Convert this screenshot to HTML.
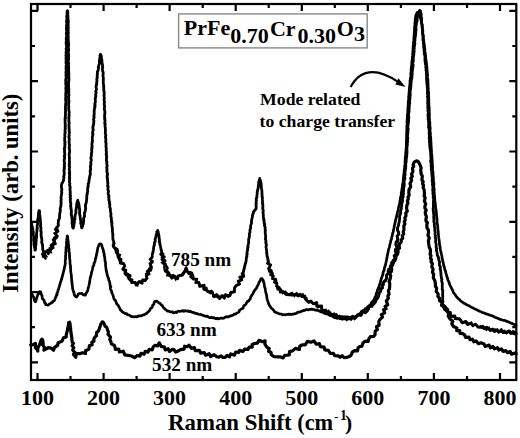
<!DOCTYPE html>
<html><head><meta charset="utf-8"><style>
html,body{margin:0;padding:0;background:#fff;}
svg{display:block;}
text{font-family:"Liberation Serif",serif;font-weight:bold;fill:#000;}
</style></head><body>
<svg width="520" height="438" viewBox="0 0 520 438">
<rect width="520" height="438" fill="#fff"/>
<g fill="none" stroke="#000" stroke-linejoin="round" stroke-linecap="round">
<path d="M30.7,344.8 L33.3,344.6 L35.4,343.4 L35.4,347.7 L37.3,349.8 L37.8,351.1 L37.7,348.2 L38.8,346.0 L40.0,343.8 L40.3,342.4 L40.7,341.2 L41.1,340.1 L41.6,339.4 L41.8,339.1 L42.0,339.3 L42.6,339.9 L42.9,341.0 L42.9,342.4 L43.2,343.7 L42.7,345.0 L44.5,347.5 L43.9,350.1 L46.3,348.9 L48.2,347.6 L51.1,348.1 L53.6,350.2 L54.6,347.3 L57.6,345.4 L58.1,342.7 L62.0,341.2 L63.5,337.8 L66.2,337.0 L66.2,334.9 L66.6,333.9 L66.7,332.7 L67.2,331.5 L67.3,330.5 L67.6,329.5 L67.7,328.2 L68.1,327.0 L68.2,325.8 L68.6,324.7 L68.6,323.6 L68.5,322.8 L69.0,322.4 L69.6,322.2 L70.2,324.6 L70.1,325.3 L70.3,326.1 L70.2,327.1 L70.7,328.1 L70.6,329.2 L70.6,330.4 L70.9,331.5 L71.1,332.7 L71.1,333.9 L71.5,335.0 L71.4,336.0 L71.6,337.0 L71.9,338.1 L71.7,339.2 L72.0,340.3 L72.2,341.4 L72.2,342.5 L73.5,343.3 L72.1,345.7 L73.8,347.6 L72.7,350.2 L74.8,352.2 L73.4,354.5 L75.8,357.2 L75.8,356.5 L76.4,353.6 L79.8,353.7 L82.5,352.7 L85.5,353.5 L85.5,350.8 L88.9,349.1 L89.4,345.5 L92.1,345.0 L91.8,342.2 L94.0,341.3 L93.8,339.0 L94.8,337.2 L96.5,335.7 L96.6,332.4 L98.5,330.9 L99.2,329.0 L100.5,325.2 L100.9,323.9 L101.6,323.0 L102.0,322.1 L102.6,321.8 L103.1,322.1 L103.6,322.9 L104.2,323.9 L104.7,325.1 L105.2,326.4 L106.7,327.2 L107.6,330.1 L108.4,332.1 L108.1,334.4 L110.5,337.0 L109.8,339.6 L110.9,341.6 L111.4,343.8 L114.6,345.7 L115.4,349.5 L118.7,349.0 L119.5,352.0 L123.3,351.2 L124.8,354.8 L128.8,355.5 L131.4,356.0 L134.6,357.7 L137.3,355.5 L139.9,356.1 L141.0,353.3 L144.1,354.3 L145.2,351.3 L148.0,352.1 L149.1,349.4 L152.3,349.8 L153.2,346.9 L154.9,345.3 L157.8,345.8 L159.2,342.8 L161.4,346.6 L164.2,346.8 L165.2,349.9 L168.1,348.7 L169.5,351.4 L172.0,349.4 L174.0,349.6 L175.7,352.0 L178.8,350.8 L180.3,349.7 L184.0,349.1 L184.6,346.2 L187.1,346.7 L189.0,345.1 L191.3,348.4 L194.4,347.6 L195.3,350.7 L199.4,350.4 L200.6,353.1 L204.2,352.6 L205.6,355.2 L209.2,353.7 L210.6,356.5 L214.1,354.7 L216.8,356.8 L218.9,357.2 L221.1,355.9 L223.1,357.5 L225.1,357.4 L227.0,355.5 L229.5,356.9 L230.7,354.0 L234.5,355.1 L235.7,352.0 L238.5,352.5 L239.6,350.3 L242.8,351.4 L244.5,349.2 L248.1,349.3 L249.3,347.0 L252.2,347.2 L252.2,344.5 L254.4,343.5 L257.5,343.1 L259.0,340.3 L262.3,341.7 L265.1,340.9 L264.9,344.0 L266.5,346.8 L269.2,348.6 L268.5,351.4 L271.0,352.2 L271.3,354.8 L274.1,356.7 L278.2,356.8 L280.2,356.8 L283.0,357.9 L284.8,355.3 L289.2,355.0 L289.5,351.6 L292.3,351.0 L295.3,348.4 L299.4,349.4 L299.8,346.2 L302.1,344.8 L305.2,344.8 L307.4,341.4 L310.9,342.2 L314.0,341.0 L316.3,344.2 L319.4,343.6 L320.3,346.6 L324.1,347.2 L324.8,349.8 L328.3,350.4 L330.3,353.5 L333.4,353.3 L334.7,355.7 L338.3,355.8 L340.1,357.4 L342.1,355.7 L344.1,357.7 L346.4,357.5 L348.6,356.7 L350.8,355.6 L352.6,351.8 L354.5,350.6 L357.5,350.9 L358.0,348.0 L359.4,346.7 L361.9,346.1 L363.1,342.8 L365.5,341.1 L368.2,341.5 L368.7,339.0 L370.4,336.6 L373.6,336.5 L375.0,334.8 L375.2,331.0 L377.4,329.6 L376.5,326.6 L379.1,325.3 L378.8,321.5 L379.8,319.7 L382.5,317.2 L381.4,314.6 L384.6,312.8 L383.6,309.7 L386.1,308.8 L385.1,306.3 L387.7,304.9 L386.3,300.9 L388.4,298.2 L387.8,296.1 L389.1,294.1 L388.4,290.8 L389.5,288.7 L389.7,285.8 L389.8,283.6 L389.1,281.5 L390.2,278.6 L390.7,275.8 L389.8,273.6 L391.3,271.6 L391.7,269.5 L391.3,266.4 L392.7,264.7 L393.4,261.8 L395.0,260.3 L395.8,258.4 L395.9,256.1 L397.5,254.2 L398.1,252.1 L397.9,249.8 L399.5,248.1 L399.1,245.7 L399.6,243.6 L401.2,242.0 L401.2,239.9 L402.7,238.2 L402.3,235.8 L403.7,233.8 L403.2,231.7 L404.0,229.5 L403.8,226.0 L404.9,223.9 L404.3,221.8 L405.2,220.1 L404.9,217.5 L406.0,215.8 L405.8,213.0 L407.3,211.2 L406.5,208.2 L406.9,205.2 L407.9,203.1 L407.4,200.9 L408.3,199.1 L408.0,197.0 L409.2,195.1 L408.8,192.9 L409.0,189.6 L410.7,186.7 L410.0,183.4 L411.6,180.4 L410.8,178.2 L412.3,176.4 L411.5,174.4 L412.9,171.3 L412.5,168.1 L413.7,166.5 L413.1,164.7 L414.2,162.1 L416.5,160.8 L418.2,161.4 L419.9,164.6 L421.1,167.7 L420.7,170.2 L421.0,171.9 L421.1,173.9 L422.3,176.0 L421.9,180.1 L423.2,181.6 L422.5,183.6 L423.6,185.4 L423.1,187.6 L424.1,189.6 L424.3,191.8 L424.5,193.9 L424.2,196.0 L425.1,198.0 L424.4,201.1 L425.8,204.1 L424.9,206.2 L424.9,208.2 L426.2,210.1 L425.3,212.2 L425.4,214.1 L426.6,217.0 L425.9,219.1 L426.0,221.0 L427.4,222.7 L426.8,224.7 L427.0,227.8 L428.3,229.9 L428.6,232.8 L427.9,235.0 L429.3,238.1 L428.4,240.5 L428.7,243.7 L429.0,245.8 L429.4,247.6 L430.3,249.2 L430.5,251.5 L430.1,254.3 L431.0,255.7 L430.4,258.3 L431.5,259.8 L431.0,261.7 L432.4,263.5 L431.8,266.9 L433.1,269.0 L432.5,272.4 L433.7,274.4 L433.3,277.7 L434.9,280.8 L435.5,284.1 L435.4,286.4 L436.7,288.2 L436.2,291.4 L438.2,294.1 L437.9,296.7 L439.5,298.2 L439.4,300.4 L442.1,302.5 L441.5,305.3 L444.3,305.8 L444.9,309.4 L447.9,311.6 L448.8,313.3 L448.2,316.1 L450.0,318.9 L452.8,321.2 L451.8,323.9 L453.5,326.6 L456.9,328.0 L456.7,330.6 L459.7,330.5 L460.0,333.3 L462.7,333.6 L464.6,334.8 L465.6,337.3 L469.0,337.1 L470.0,339.7 L472.5,339.2 L473.8,341.8 L476.2,340.9 L478.5,343.7 L481.1,342.8 L484.0,344.0 L485.3,346.4 L489.1,345.1 L490.4,347.8 L492.9,346.5 L494.5,348.9 L497.4,347.6 L498.8,350.0 L501.4,348.9 L503.1,351.4 L505.8,350.6 L507.6,352.7 L510.2,351.4 L511.4,354.1 L515.8,352.9 L516.0,354.0" stroke-width="3.2"/>
<path d="M31.3,292.9 L31.5,293.8 L32.3,294.7 L32.9,295.9 L33.6,296.9 L33.9,298.1 L34.3,299.4 L34.6,300.7 L35.1,301.5 L35.3,301.8 L35.8,301.6 L35.9,300.7 L36.3,299.5 L36.6,298.2 L37.0,297.0 L37.4,296.0 L37.8,294.8 L38.5,293.6 L38.9,292.4 L39.4,291.6 L40.0,291.7 L40.7,291.8 L41.0,292.8 L40.9,294.1 L42.0,295.2 L42.1,296.6 L42.2,298.0 L42.7,299.1 L43.9,300.0 L44.3,301.3 L44.6,302.6 L45.6,303.5 L45.6,304.6 L46.5,304.7 L48.2,305.1 L48.9,304.4 L49.7,303.8 L50.7,303.5 L51.5,302.5 L52.6,302.3 L53.0,301.2 L54.3,300.7 L54.8,299.5 L55.3,298.2 L55.6,297.4 L56.2,296.6 L56.2,295.5 L57.2,294.7 L56.8,293.4 L57.5,292.4 L57.9,291.3 L58.0,289.9 L58.7,289.2 L58.7,288.1 L59.2,287.2 L59.5,286.1 L59.6,285.0 L60.1,284.0 L60.3,282.9 L60.6,281.8 L61.2,280.8 L61.3,279.8 L61.7,278.9 L61.7,278.0 L62.3,276.8 L62.5,275.7 L62.8,274.7 L63.0,273.7 L63.2,272.8 L63.5,271.9 L63.7,270.9 L63.9,270.0 L64.3,269.0 L64.3,268.0 L64.5,267.1 L64.9,266.1 L65.0,265.1 L65.2,264.1 L65.3,263.1 L65.2,262.0 L65.3,261.0 L65.3,260.0 L65.6,258.9 L65.6,257.8 L65.5,256.7 L65.6,255.6 L65.7,254.6 L65.8,253.5 L65.7,252.4 L66.0,251.3 L65.9,250.2 L66.1,249.2 L66.0,248.1 L66.1,247.0 L66.5,246.0 L66.5,244.9 L66.6,243.9 L66.4,243.0 L66.5,241.7 L66.7,240.4 L66.8,239.1 L67.0,237.9 L67.1,236.9 L67.1,236.2 L67.4,235.9 L67.5,236.3 L67.8,236.9 L67.6,237.9 L67.9,239.1 L68.0,240.4 L68.3,241.7 L68.3,243.0 L68.3,243.9 L68.5,244.7 L68.8,245.5 L68.5,246.4 L68.6,247.4 L68.9,248.4 L69.1,249.5 L68.9,250.9 L69.2,252.4 L69.5,253.2 L69.4,254.0 L69.6,254.9 L69.4,255.8 L69.7,256.7 L69.5,257.8 L69.7,258.8 L70.0,259.8 L69.9,260.9 L70.1,262.0 L70.0,263.1 L70.1,264.2 L70.4,265.3 L70.6,266.4 L70.4,267.5 L70.7,268.5 L70.6,269.6 L70.7,270.6 L70.8,271.6 L70.9,272.5 L71.1,273.6 L71.2,274.8 L71.5,275.9 L71.3,277.1 L71.6,278.2 L71.6,279.3 L71.6,280.4 L72.0,281.4 L71.8,282.5 L72.2,283.5 L72.1,284.5 L72.2,285.5 L72.5,286.4 L72.5,287.3 L72.5,288.1 L72.7,288.9 L73.1,290.4 L73.5,291.8 L74.0,293.0 L74.2,294.2 L74.5,295.2 L75.0,296.0 L75.4,296.5 L75.7,296.7 L76.6,297.1 L77.5,295.7 L78.1,294.2 L79.4,293.6 L80.8,293.5 L82.0,293.4 L82.7,294.5 L83.9,294.9 L84.7,295.1 L85.5,295.1 L85.5,293.9 L86.4,293.1 L86.8,291.9 L87.7,290.9 L87.8,289.9 L88.1,288.9 L88.2,287.7 L88.6,286.6 L88.9,285.5 L89.1,284.4 L89.4,283.4 L89.7,282.4 L89.5,281.5 L89.8,280.7 L90.0,279.8 L90.1,278.7 L90.3,277.5 L90.6,276.7 L90.8,275.8 L91.2,274.8 L91.3,273.8 L91.5,272.7 L91.8,271.6 L92.1,270.6 L92.4,269.5 L92.6,268.4 L92.8,267.4 L93.0,266.4 L93.7,265.5 L93.9,264.4 L94.0,263.3 L94.6,262.4 L95.0,261.4 L95.2,260.4 L95.3,259.3 L95.7,258.4 L96.0,257.4 L96.1,256.3 L96.5,255.3 L96.4,254.2 L97.0,253.1 L97.1,252.0 L97.2,251.0 L97.5,250.1 L97.6,249.1 L97.7,248.3 L98.2,246.9 L98.7,245.5 L99.2,244.4 L100.0,243.9 L100.5,243.8 L101.0,244.0 L101.6,244.8 L101.9,246.0 L102.3,247.3 L102.7,248.7 L103.4,250.1 L103.4,250.9 L103.6,251.8 L103.8,252.7 L104.1,253.6 L104.3,254.6 L104.2,255.7 L104.6,256.7 L104.7,257.8 L104.8,258.8 L105.0,259.9 L105.0,261.0 L105.4,262.0 L105.6,263.1 L105.5,264.2 L105.6,265.4 L105.7,266.5 L105.9,267.7 L106.0,268.9 L106.1,270.0 L106.4,271.0 L106.6,272.0 L106.9,272.9 L107.0,273.8 L107.2,275.2 L107.8,276.3 L107.9,277.4 L108.5,278.2 L108.7,279.1 L108.8,280.1 L109.4,281.1 L109.7,282.3 L109.8,283.4 L110.1,284.6 L110.0,285.8 L110.9,286.6 L110.3,287.8 L110.5,288.8 L110.8,289.8 L111.4,290.8 L111.8,291.7 L111.7,292.7 L112.2,293.7 L112.7,294.6 L113.1,295.5 L113.4,296.5 L113.6,297.5 L113.9,298.6 L114.3,299.6 L115.4,300.3 L115.8,301.4 L116.2,302.5 L116.6,303.6 L117.3,304.5 L118.0,305.2 L118.7,306.3 L119.2,307.4 L119.8,308.4 L120.1,309.5 L120.8,310.3 L121.7,311.1 L122.5,312.0 L123.4,312.6 L124.5,313.0 L125.3,313.7 L126.6,313.5 L127.2,314.5 L128.2,314.9 L129.3,315.0 L130.3,315.8 L131.3,316.7 L132.7,316.6 L133.8,317.0 L134.9,316.7 L136.1,316.6 L137.3,316.9 L138.3,315.8 L139.5,315.8 L140.9,316.0 L142.0,315.5 L143.0,314.8 L144.4,314.9 L145.3,314.0 L146.5,313.5 L147.3,312.6 L148.3,311.9 L149.2,311.0 L149.9,309.9 L150.3,308.9 L150.9,308.1 L152.1,307.5 L152.4,306.3 L152.6,305.2 L153.9,304.4 L154.1,302.8 L154.6,301.6 L155.7,301.3 L156.9,301.2 L158.0,302.2 L159.2,303.1 L160.3,303.6 L161.0,304.8 L162.2,305.4 L162.7,306.5 L163.4,307.6 L164.5,308.4 L165.1,309.4 L166.0,309.7 L166.8,310.4 L167.7,311.2 L169.0,311.2 L169.9,311.7 L171.0,312.0 L172.2,311.7 L173.2,312.8 L174.4,312.7 L175.4,312.1 L176.7,312.6 L177.5,311.7 L178.5,311.0 L180.1,311.5 L180.8,311.0 L181.7,311.2 L182.7,310.6 L183.8,311.3 L184.9,310.6 L186.0,310.9 L187.1,311.1 L188.2,310.9 L189.2,311.6 L190.3,311.4 L191.3,311.7 L192.2,312.3 L193.4,312.3 L194.3,313.1 L195.4,313.1 L196.3,313.7 L197.5,313.7 L198.4,314.3 L199.4,314.5 L200.6,314.2 L201.5,315.0 L202.6,315.0 L203.5,315.7 L204.6,315.9 L205.6,316.4 L206.8,316.0 L207.7,316.5 L208.7,317.1 L209.6,317.6 L210.7,317.6 L211.9,317.2 L212.8,318.0 L214.0,317.7 L214.9,318.3 L215.9,318.7 L217.0,318.1 L218.0,318.9 L219.1,318.7 L220.1,318.2 L221.1,318.0 L222.1,318.1 L223.2,318.3 L224.2,317.9 L225.1,317.2 L226.1,316.8 L227.1,316.7 L228.4,317.0 L229.3,316.1 L230.4,316.1 L231.4,315.5 L232.6,315.5 L233.5,314.8 L234.3,314.1 L235.6,314.2 L236.3,313.4 L237.3,312.9 L238.2,312.4 L239.1,311.8 L239.3,310.4 L240.2,310.0 L240.8,309.2 L241.7,308.8 L242.7,308.4 L243.4,307.4 L243.6,306.0 L244.4,305.2 L245.6,304.7 L246.1,303.8 L246.4,302.9 L247.0,302.3 L247.7,301.1 L248.8,301.1 L249.2,299.9 L250.1,299.4 L250.4,298.2 L250.7,297.0 L251.4,296.0 L251.9,294.9 L252.7,294.1 L253.2,293.0 L253.7,291.9 L254.3,290.9 L255.0,290.1 L255.6,289.1 L256.3,288.3 L256.8,287.3 L257.4,286.3 L257.7,285.3 L258.4,284.5 L258.7,283.4 L259.0,282.3 L259.6,281.5 L260.2,280.8 L260.8,278.9 L261.9,278.4 L262.3,279.0 L262.9,279.8 L263.4,281.1 L263.8,282.6 L264.1,283.3 L264.2,284.2 L264.4,285.2 L264.5,286.2 L264.7,287.3 L265.2,288.3 L265.3,289.4 L265.4,290.4 L265.6,291.4 L265.8,292.4 L266.1,293.4 L266.3,294.4 L266.6,295.4 L266.8,296.4 L266.8,297.5 L267.0,298.5 L267.2,299.4 L267.5,300.2 L268.0,301.4 L268.2,302.6 L268.6,303.7 L269.2,304.6 L269.5,305.6 L270.2,306.3 L270.8,307.6 L271.6,308.4 L272.6,309.1 L273.3,310.1 L274.1,310.8 L274.6,311.9 L275.7,312.2 L276.7,312.7 L277.7,313.1 L278.6,313.5 L279.6,313.9 L280.6,314.0 L281.6,314.1 L282.6,314.9 L283.6,314.7 L284.6,314.7 L285.7,314.8 L286.7,314.5 L287.7,314.3 L288.7,314.2 L289.7,314.3 L290.7,314.2 L291.7,314.4 L292.7,314.0 L293.8,314.1 L294.6,313.5 L295.7,313.7 L296.7,313.1 L297.6,312.4 L298.5,312.1 L299.6,312.0 L300.8,311.9 L301.6,311.0 L302.7,310.9 L303.5,310.3 L304.8,310.4 L305.8,309.5 L307.0,309.7 L308.1,309.9 L309.3,309.4 L310.5,309.3 L311.6,309.2 L312.7,309.3 L313.9,309.6 L315.0,310.1 L316.1,310.0 L317.2,310.4 L318.4,310.5 L319.6,311.2 L320.6,311.8 L321.8,312.1 L323.1,312.2 L324.1,313.1 L325.2,313.7 L326.5,313.8 L327.8,313.8 L328.7,314.8 L329.6,315.3 L330.7,315.4 L331.7,315.8 L332.6,316.3 L333.4,316.9 L334.5,317.6 L335.7,317.7 L336.9,318.2 L338.1,317.9 L339.3,318.2 L340.3,318.7 L341.5,318.8 L342.7,318.7 L343.7,319.0 L344.7,318.9 L345.7,318.7 L346.8,319.0 L348.0,318.6 L348.9,318.9 L349.9,318.5 L351.0,318.4 L352.1,318.2 L353.0,317.6 L354.1,317.4 L354.8,316.7 L356.1,316.8 L356.8,316.0 L357.8,315.6 L358.1,314.4 L359.2,314.0 L360.1,313.4 L360.8,312.5 L361.7,311.6 L362.6,310.9 L363.6,310.2 L364.8,309.8 L365.3,308.7 L366.5,308.5 L367.2,307.6 L368.0,307.0 L368.8,306.4 L369.5,305.5 L370.3,304.8 L371.0,303.9 L371.6,302.9 L372.6,302.1 L372.9,300.9 L373.8,300.1 L374.3,299.2 L374.8,298.4 L374.8,297.4 L375.5,296.6 L376.0,295.7 L376.0,294.4 L376.4,293.1 L376.8,292.3 L377.3,291.6 L377.3,290.6 L377.6,289.6 L378.1,288.8 L378.5,287.8 L378.9,286.8 L379.1,285.7 L379.7,284.8 L379.8,283.6 L380.4,282.6 L380.5,281.4 L380.8,280.2 L381.1,279.4 L381.4,278.5 L381.8,277.6 L382.1,276.6 L382.3,275.6 L382.9,274.7 L382.9,273.7 L383.1,272.6 L383.4,271.6 L383.9,270.7 L384.3,269.7 L384.2,268.6 L384.5,267.6 L385.0,266.7 L385.0,265.7 L385.6,264.9 L385.6,263.9 L385.9,262.8 L386.1,261.7 L386.5,260.6 L386.6,259.5 L386.7,258.4 L387.2,257.4 L387.1,256.3 L387.5,255.3 L387.5,254.3 L387.9,253.3 L388.0,252.4 L388.3,251.6 L388.2,250.7 L388.5,250.0 L388.8,248.6 L389.3,247.7 L389.5,246.9 L389.6,246.2 L389.7,245.2 L390.1,243.8 L390.3,243.0 L390.6,242.2 L390.7,241.3 L390.9,240.3 L391.4,239.3 L391.6,238.2 L391.7,237.1 L392.3,236.1 L392.2,234.9 L392.6,233.9 L392.7,232.8 L393.2,231.9 L393.4,230.9 L393.4,230.0 L393.8,228.9 L394.1,227.9 L394.1,226.9 L394.3,226.0 L394.5,225.1 L394.9,224.2 L394.8,223.2 L395.2,222.3 L395.4,221.2 L395.6,220.0 L395.8,219.1 L396.2,218.2 L396.2,217.2 L396.7,216.3 L396.7,215.2 L397.2,214.1 L397.5,213.1 L397.5,211.9 L398.0,210.9 L398.3,209.9 L398.3,208.8 L398.5,207.7 L398.7,206.8 L399.3,205.9 L399.1,205.0 L399.7,203.9 L399.6,202.7 L400.0,201.8 L399.9,200.9 L400.1,200.0 L400.4,199.1 L400.3,198.2 L400.6,197.2 L401.0,196.2 L401.1,195.0 L401.3,194.2 L401.5,193.4 L401.2,192.5 L401.5,191.7 L401.8,190.9 L401.9,190.1 L401.8,189.2 L402.2,188.3 L402.2,187.3 L402.5,186.3 L402.5,185.2 L402.6,184.0 L403.2,182.8 L403.1,181.4 L403.5,180.0 L403.2,179.2 L403.5,178.4 L403.4,177.6 L403.6,176.7 L403.6,175.9 L403.9,175.0 L403.8,174.0 L404.1,173.1 L404.1,172.1 L404.1,171.1 L404.3,170.1 L404.4,169.1 L404.7,168.1 L404.6,167.0 L404.6,165.9 L405.0,164.9 L405.1,163.8 L405.1,162.7 L405.0,161.6 L405.1,160.5 L405.2,159.5 L405.2,158.4 L405.3,157.3 L405.6,156.2 L405.6,155.2 L405.7,154.1 L405.7,153.1 L405.7,152.0 L406.0,151.0 L406.1,150.0 L406.1,149.0 L406.1,148.0 L406.3,147.0 L406.4,146.0 L406.4,145.0 L406.4,144.0 L406.3,143.0 L406.3,142.0 L406.4,141.0 L406.7,140.0 L406.5,139.0 L406.5,138.0 L406.5,136.9 L406.5,135.9 L406.8,134.9 L406.5,133.9 L406.7,132.9 L406.9,131.9 L406.7,130.9 L406.8,129.9 L406.8,128.9 L406.8,127.9 L406.8,126.9 L406.8,125.9 L407.1,124.9 L407.1,124.0 L407.2,123.0 L406.9,122.0 L407.2,121.0 L407.1,120.0 L407.3,119.0 L407.3,118.0 L407.3,116.9 L407.6,115.9 L407.3,114.9 L407.7,113.8 L407.8,112.8 L407.7,111.8 L407.8,110.7 L408.0,109.7 L407.8,108.7 L408.0,107.6 L408.1,106.6 L408.1,105.6 L408.3,104.6 L408.2,103.5 L408.3,102.5 L408.4,101.5 L408.5,100.5 L408.5,99.5 L408.7,98.5 L408.7,97.6 L408.6,96.6 L408.9,95.6 L408.8,94.7 L409.1,93.8 L409.0,92.8 L409.2,91.9 L409.2,91.0 L409.3,89.9 L409.3,88.8 L409.3,87.7 L409.7,86.7 L409.7,85.6 L409.8,84.6 L409.9,83.6 L410.1,82.6 L410.0,81.6 L410.0,80.6 L410.4,79.6 L410.3,78.6 L410.5,77.7 L410.7,76.7 L410.8,75.8 L410.9,74.8 L410.7,73.8 L410.9,72.9 L411.2,71.9 L411.2,71.0 L411.1,70.0 L411.2,69.0 L411.3,68.0 L411.3,67.0 L411.5,66.0 L411.8,65.0 L411.8,63.9 L411.8,62.9 L411.8,61.8 L412.0,60.7 L412.3,59.7 L412.3,58.6 L412.3,57.6 L412.4,56.5 L412.6,55.5 L412.7,54.5 L412.6,53.4 L412.9,52.4 L412.8,51.4 L413.0,50.4 L412.9,49.5 L413.1,48.5 L413.1,47.6 L413.2,46.7 L413.1,45.8 L413.3,45.0 L413.5,43.8 L413.4,42.5 L413.6,41.4 L413.9,40.3 L413.8,39.2 L413.9,38.2 L413.9,37.2 L414.2,36.2 L414.0,35.2 L414.3,34.3 L414.4,33.4 L414.2,32.5 L414.3,31.7 L414.6,30.8 L414.5,30.0 L414.5,28.8 L414.5,27.6 L414.7,26.5 L414.8,25.4 L415.0,24.4 L414.9,23.4 L415.0,22.5 L415.1,21.6 L415.3,20.8 L415.1,20.0 L415.3,18.6 L415.5,17.5 L415.8,16.6 L415.7,15.7 L416.2,15.1 L416.6,13.4 L417.2,12.5 L417.9,12.9 L418.9,14.0 L419.4,14.7 L419.6,15.7 L420.1,16.7 L420.5,18.0 L420.7,18.8 L420.8,19.6 L421.1,20.4 L421.5,21.2 L421.5,22.3 L421.8,23.6 L422.0,25.0 L422.0,25.8 L422.2,26.5 L422.3,27.3 L422.2,28.1 L422.5,28.9 L422.6,29.8 L422.6,30.7 L422.6,31.7 L422.8,32.7 L422.8,33.8 L423.1,34.9 L423.4,36.0 L423.2,37.3 L423.4,38.6 L423.5,40.0 L423.6,40.8 L423.9,41.6 L424.0,42.5 L424.2,43.3 L424.0,44.3 L424.4,45.2 L424.5,46.2 L424.4,47.2 L424.6,48.2 L424.9,49.2 L424.8,50.3 L424.9,51.4 L425.1,52.4 L425.4,53.5 L425.3,54.6 L425.6,55.7 L425.6,56.8 L425.6,57.9 L425.8,58.9 L425.9,60.0 L426.3,61.0 L426.3,62.1 L426.4,63.1 L426.7,64.1 L426.4,65.2 L426.8,66.1 L426.9,67.1 L427.0,68.0 L427.1,69.1 L427.0,70.2 L427.2,71.2 L427.3,72.2 L427.4,73.2 L427.6,74.2 L427.6,75.2 L427.4,76.1 L427.5,77.1 L427.6,78.0 L427.8,79.0 L427.9,79.9 L428.0,80.8 L427.9,81.8 L428.0,82.8 L428.0,83.7 L428.1,84.7 L428.1,85.7 L428.2,86.7 L428.1,87.7 L428.4,88.8 L428.2,89.9 L428.4,91.0 L428.6,91.9 L428.6,92.8 L428.5,93.7 L428.6,94.7 L428.6,95.6 L428.7,96.6 L428.8,97.6 L428.6,98.5 L428.9,99.5 L428.7,100.5 L428.7,101.5 L428.9,102.5 L428.9,103.5 L428.8,104.6 L429.0,105.6 L428.9,106.6 L429.3,107.6 L429.1,108.7 L429.1,109.7 L429.4,110.7 L429.1,111.8 L429.4,112.8 L429.3,113.8 L429.5,114.9 L429.2,115.9 L429.4,116.9 L429.4,118.0 L429.5,119.0 L429.5,120.0 L429.6,121.0 L429.8,122.0 L429.9,123.0 L429.7,124.0 L430.0,124.9 L429.7,125.9 L430.1,126.9 L430.2,127.9 L430.2,128.9 L430.0,129.9 L430.0,130.9 L430.3,131.9 L430.3,132.9 L430.5,133.9 L430.3,134.9 L430.4,135.9 L430.7,136.9 L430.8,137.9 L430.6,139.0 L430.9,140.0 L430.7,141.0 L431.0,142.0 L431.1,143.0 L431.0,144.0 L431.1,145.0 L431.1,146.0 L431.3,147.0 L431.1,148.0 L431.4,149.0 L431.3,150.0 L431.6,151.0 L431.4,152.0 L431.4,153.1 L431.7,154.1 L431.9,155.1 L431.9,156.2 L431.8,157.2 L432.1,158.3 L432.0,159.3 L432.3,160.4 L432.2,161.4 L432.2,162.5 L432.4,163.5 L432.3,164.6 L432.6,165.6 L432.4,166.7 L432.8,167.7 L432.5,168.7 L432.6,169.7 L432.7,170.8 L432.9,171.7 L433.1,172.7 L433.1,173.7 L433.0,174.6 L433.2,175.6 L433.1,176.5 L433.5,177.4 L433.4,178.3 L433.3,179.2 L433.5,180.0 L433.6,181.2 L433.8,182.4 L433.9,183.6 L433.9,184.7 L433.7,185.8 L433.8,186.9 L434.1,187.9 L433.9,189.0 L434.3,189.9 L434.1,190.9 L434.0,191.9 L434.4,192.8 L434.2,193.8 L434.3,194.7 L434.6,195.6 L434.6,196.5 L434.6,197.4 L434.8,198.2 L434.6,199.1 L434.9,200.0 L434.8,201.1 L435.1,202.2 L435.3,203.1 L435.2,204.1 L435.5,205.0 L435.4,205.9 L435.4,206.8 L435.6,207.6 L435.8,208.5 L436.0,209.4 L436.0,210.4 L436.3,211.4 L436.2,212.5 L436.5,213.7 L436.5,215.0 L436.6,215.8 L436.7,216.7 L436.7,217.6 L437.0,218.5 L437.1,219.5 L436.9,220.5 L437.2,221.6 L437.1,222.6 L437.2,223.7 L437.5,224.8 L437.7,225.8 L437.8,226.9 L437.6,228.1 L438.0,229.1 L438.0,230.2 L438.1,231.3 L438.3,232.4 L438.3,233.4 L438.5,234.5 L438.5,235.5 L438.6,236.5 L438.7,237.4 L438.9,238.3 L438.9,239.2 L439.1,240.0 L439.3,241.3 L439.4,242.5 L439.4,243.7 L439.7,244.8 L439.7,245.9 L440.2,246.8 L440.0,247.9 L440.3,248.8 L440.4,249.7 L440.6,250.6 L440.8,251.5 L441.1,252.3 L441.1,253.3 L441.5,254.1 L441.6,255.0 L441.9,256.1 L442.0,257.2 L442.1,258.3 L442.5,259.3 L442.4,260.4 L443.0,261.4 L443.0,262.4 L443.4,263.3 L443.4,264.3 L443.6,265.2 L443.8,266.0 L444.3,266.8 L444.5,268.0 L444.7,269.1 L444.9,270.2 L445.5,270.9 L445.6,271.9 L445.8,272.8 L446.1,273.7 L446.5,274.7 L446.6,275.7 L447.0,276.6 L447.1,277.6 L447.8,278.5 L447.7,279.6 L448.2,280.5 L448.6,281.5 L449.1,282.4 L449.4,283.4 L449.6,284.5 L450.1,285.5 L450.7,286.4 L451.1,287.4 L451.6,288.3 L452.0,289.2 L452.5,290.1 L453.0,291.1 L453.2,292.1 L453.7,292.9 L454.3,293.7 L455.1,294.6 L455.7,295.5 L456.3,296.4 L456.9,297.3 L457.7,298.1 L458.5,298.8 L459.4,299.4 L460.1,300.3 L460.9,301.1 L461.7,301.8 L462.7,302.2 L463.5,303.0 L464.5,303.4 L465.4,303.8 L466.2,304.6 L467.4,305.1 L468.2,305.5 L469.3,305.8 L470.1,306.6 L471.1,307.1 L472.1,307.6 L473.2,308.1 L474.1,308.6 L475.1,309.1 L476.1,309.5 L477.2,309.9 L478.1,310.6 L479.1,311.0 L480.1,311.5 L481.1,311.7 L482.0,312.4 L483.1,312.6 L484.0,313.1 L485.1,313.2 L486.0,313.9 L487.0,314.1 L488.0,314.3 L488.9,314.9 L490.0,315.1 L491.0,315.4 L492.0,315.9 L493.0,316.2 L493.9,316.6 L494.7,317.2 L495.9,317.5 L496.9,318.0 L497.9,318.3 L498.8,318.9 L500.0,319.3 L500.9,319.6 L501.8,320.0 L502.9,320.2 L504.0,320.3 L505.1,320.5 L506.0,321.0 L507.0,321.4 L508.1,321.7 L509.2,322.2 L510.2,322.8 L511.2,323.3 L512.3,323.4 L513.0,324.0 L514.4,324.5 L515.4,325.0 L515.9,325.6 L516.0,325.5" stroke-width="2.7"/>
<path d="M31.3,222.0 L31.5,222.5 L31.3,223.2 L31.8,224.0 L31.8,224.9 L32.0,225.9 L32.4,226.9 L32.4,228.1 L32.9,229.3 L32.8,230.6 L33.3,232.0 L33.4,232.8 L33.3,233.9 L33.2,235.0 L33.7,236.2 L33.8,237.5 L33.6,238.9 L33.6,240.2 L33.9,241.6 L34.2,242.9 L33.9,244.3 L34.6,245.4 L34.3,246.6 L34.7,247.6 L34.9,248.4 L35.1,249.1 L35.1,249.6 L34.9,250.1 L35.1,249.8 L35.3,249.9 L35.5,249.5 L35.4,249.0 L35.6,248.4 L35.4,247.6 L35.5,246.7 L35.6,245.8 L36.0,244.7 L35.9,243.6 L35.9,242.4 L36.2,241.2 L36.2,239.9 L36.2,238.6 L36.6,237.3 L36.6,236.0 L36.4,234.7 L36.7,233.4 L36.7,232.2 L37.0,231.1 L37.0,230.0 L36.9,229.0 L37.4,227.9 L37.0,226.6 L37.3,225.3 L37.6,224.0 L37.4,222.5 L37.7,221.2 L37.6,219.8 L38.1,218.4 L38.3,217.1 L38.3,215.8 L38.6,214.7 L38.4,213.6 L38.7,212.7 L38.8,211.9 L38.9,211.2 L38.9,210.8 L39.2,210.7 L39.1,210.7 L39.3,210.7 L39.3,211.0 L39.7,211.4 L39.4,212.1 L39.6,212.9 L39.4,213.7 L39.6,214.7 L40.0,215.7 L40.0,216.9 L40.0,218.1 L40.4,219.3 L40.2,220.7 L40.5,222.0 L40.6,223.3 L40.7,224.6 L40.4,226.0 L40.9,227.3 L40.9,228.5 L40.9,229.8 L40.7,230.9 L41.3,232.0 L41.1,233.0 L41.2,234.1 L41.1,235.1 L41.2,236.2 L41.3,237.4 L41.8,238.5 L41.8,239.6 L41.9,240.7 L41.7,241.9 L41.8,243.0 L42.4,244.1 L42.5,245.2 L42.6,246.3 L42.7,247.3 L42.7,248.3 L42.7,249.3 L43.0,250.2 L43.3,251.1 L44.2,251.8 L42.5,254.1 L45.4,258.3 L43.5,254.1 L47.2,251.0 L48.2,249.9 L48.3,253.8 L49.1,251.1 L52.3,248.3 L51.1,245.4 L55.4,243.6 L53.2,239.8 L56.3,238.1 L57.3,236.2 L54.9,233.4 L57.5,231.7 L55.4,229.4 L57.7,226.3 L58.4,225.4 L58.3,224.3 L58.1,223.1 L58.5,221.9 L58.3,220.7 L58.8,219.6 L59.3,218.7 L59.5,217.6 L59.6,216.4 L59.6,215.0 L59.7,214.2 L59.7,213.3 L60.2,212.3 L60.1,211.3 L60.4,210.3 L60.2,209.2 L60.3,208.1 L60.7,207.1 L60.9,206.0 L60.9,205.0 L61.0,204.0 L61.1,203.0 L61.1,202.0 L60.9,200.9 L61.2,199.9 L61.2,198.9 L61.0,197.9 L61.1,196.9 L61.3,195.9 L61.4,195.0 L61.6,193.8 L61.8,192.7 L61.5,191.5 L61.8,190.4 L61.8,189.3 L61.7,188.3 L61.4,187.3 L61.3,186.5 L61.5,185.1 L61.7,184.1 L62.0,183.3 L62.5,182.5 L63.0,181.6 L63.4,180.7 L63.6,179.0 L63.8,178.3 L64.0,177.5 L63.6,176.6 L64.0,175.7 L64.2,174.7 L64.2,173.6 L64.2,172.3 L64.1,170.9 L64.0,169.4 L64.4,168.6 L64.1,167.8 L64.5,167.0 L64.6,166.2 L64.2,165.3 L64.3,164.4 L64.6,163.4 L64.5,162.5 L64.2,161.5 L64.2,160.5 L64.2,159.4 L64.7,158.4 L64.6,157.2 L64.3,156.1 L64.7,155.0 L64.8,153.8 L64.6,152.5 L64.5,151.3 L64.6,150.0 L64.4,149.2 L64.3,148.3 L64.9,147.4 L64.8,146.5 L64.7,145.6 L65.0,144.7 L64.7,143.7 L65.0,142.8 L65.0,141.8 L64.6,140.8 L64.7,139.8 L64.7,138.8 L64.7,137.7 L65.0,136.7 L64.8,135.7 L64.9,134.6 L64.8,133.6 L65.3,132.5 L65.0,131.4 L65.0,130.4 L65.1,129.3 L65.4,128.3 L65.1,127.2 L65.4,126.2 L65.2,125.1 L65.2,124.1 L65.3,123.0 L65.0,122.0 L65.2,121.0 L65.1,120.0 L65.0,119.0 L65.5,118.0 L65.2,117.0 L65.4,116.1 L65.5,115.1 L65.4,114.2 L65.3,113.2 L65.5,112.3 L65.5,111.3 L65.7,110.4 L65.3,109.4 L65.6,108.5 L65.4,107.5 L65.4,106.6 L65.7,105.6 L65.6,104.7 L65.6,103.7 L65.8,102.7 L65.9,101.7 L65.6,100.7 L65.7,99.7 L65.7,98.7 L65.7,97.7 L65.8,96.6 L65.7,95.6 L65.8,94.5 L65.7,93.4 L66.0,92.3 L65.9,91.2 L66.0,90.0 L66.1,89.1 L65.7,88.2 L65.9,87.3 L66.1,86.4 L66.1,85.4 L65.7,84.4 L65.7,83.5 L65.9,82.5 L65.7,81.5 L65.8,80.5 L65.7,79.4 L66.1,78.4 L66.1,77.4 L66.2,76.3 L65.8,75.3 L66.1,74.2 L66.1,73.2 L65.8,72.1 L66.3,71.1 L66.3,70.0 L65.9,68.9 L66.3,67.9 L66.0,66.8 L66.1,65.8 L66.4,64.7 L66.3,63.7 L65.9,62.6 L66.1,61.6 L66.2,60.6 L66.1,59.5 L66.0,58.5 L66.1,57.5 L66.3,56.5 L65.9,55.6 L66.3,54.6 L66.2,53.6 L66.0,52.7 L66.2,51.8 L66.4,50.9 L66.3,50.0 L66.1,48.8 L66.6,47.7 L66.5,46.5 L66.6,45.3 L66.1,44.2 L66.3,43.0 L66.1,41.9 L66.6,40.7 L66.3,39.6 L66.2,38.5 L66.4,37.4 L66.7,36.3 L66.7,35.2 L66.4,34.1 L66.3,33.1 L66.8,32.0 L66.6,31.0 L66.7,30.0 L66.4,29.0 L66.4,28.1 L66.8,27.1 L66.6,26.2 L66.4,25.3 L67.0,24.5 L66.8,23.7 L66.9,22.9 L66.5,22.1 L67.0,21.4 L66.5,20.7 L67.0,20.0 L66.8,18.0 L66.8,16.2 L67.0,14.8 L67.3,13.6 L67.0,12.6 L67.0,11.9 L67.3,11.4 L67.2,11.0 L67.4,10.8 L67.7,11.0 L67.8,11.3 L67.8,11.9 L67.8,12.6 L67.9,13.6 L67.7,14.8 L68.0,16.2 L67.9,18.0 L68.2,20.0 L68.1,20.7 L68.3,21.3 L68.2,22.1 L68.4,22.8 L67.9,23.6 L68.1,24.3 L68.3,25.1 L68.1,26.0 L67.9,26.8 L68.4,27.7 L68.0,28.6 L68.2,29.5 L68.2,30.5 L68.0,31.4 L68.3,32.4 L68.2,33.5 L68.1,34.5 L68.0,35.6 L68.4,36.6 L68.1,37.7 L68.2,38.9 L68.2,40.0 L68.4,41.2 L68.4,42.4 L68.6,43.6 L68.6,44.8 L68.6,46.1 L68.2,47.4 L68.5,48.7 L68.6,50.0 L68.7,50.8 L68.2,51.6 L68.2,52.5 L68.3,53.3 L68.6,54.2 L68.6,55.1 L68.6,56.0 L68.5,56.9 L68.7,57.8 L68.5,58.7 L68.6,59.7 L68.2,60.6 L68.2,61.6 L68.5,62.5 L68.7,63.5 L68.2,64.5 L68.6,65.5 L68.6,66.5 L68.8,67.5 L68.6,68.6 L68.6,69.6 L68.6,70.6 L68.8,71.7 L68.6,72.7 L68.9,73.7 L68.7,74.8 L68.9,75.9 L68.7,76.9 L68.9,78.0 L68.9,79.0 L68.8,80.1 L68.8,81.2 L68.6,82.2 L68.6,83.3 L68.5,84.4 L68.6,85.4 L68.6,86.5 L68.5,87.6 L68.8,88.6 L68.8,89.7 L68.4,90.7 L68.9,91.8 L68.6,92.8 L68.7,93.9 L69.0,94.9 L68.6,95.9 L68.5,97.0 L68.7,98.0 L68.7,99.0 L68.6,100.0 L69.0,101.0 L68.8,102.0 L68.8,103.0 L68.6,104.1 L68.7,105.1 L68.7,106.1 L68.8,107.2 L68.6,108.2 L68.8,109.3 L68.8,110.3 L69.1,111.4 L69.2,112.5 L69.1,113.5 L69.0,114.6 L69.2,115.7 L68.8,116.7 L68.9,117.8 L68.9,118.9 L68.9,119.9 L68.9,121.0 L69.0,122.1 L69.3,123.1 L68.9,124.2 L68.9,125.3 L69.1,126.3 L69.0,127.4 L69.0,128.4 L69.3,129.4 L69.0,130.5 L69.3,131.5 L69.4,132.5 L69.3,133.5 L69.0,134.6 L69.3,135.6 L69.0,136.5 L68.9,137.5 L69.2,138.5 L69.3,139.5 L69.2,140.4 L69.1,141.3 L69.1,142.3 L69.2,143.2 L69.2,144.1 L69.5,145.0 L69.5,145.8 L69.4,146.7 L69.1,147.6 L69.4,148.4 L69.3,149.2 L69.6,150.0 L69.6,151.3 L69.5,152.6 L69.2,153.9 L69.2,155.2 L69.3,156.4 L69.5,157.5 L69.4,158.7 L69.4,159.8 L69.4,160.9 L69.6,161.9 L69.2,163.0 L69.6,164.0 L69.1,165.0 L69.2,165.9 L69.7,166.9 L69.5,167.8 L69.3,168.7 L69.2,169.6 L69.5,170.5 L69.6,171.4 L69.7,172.3 L69.2,173.1 L69.7,174.0 L69.5,174.8 L69.7,175.7 L69.5,176.5 L69.3,177.3 L69.8,178.2 L69.4,179.0 L69.6,180.3 L69.4,181.5 L69.6,182.7 L69.9,183.8 L69.5,184.9 L69.8,186.0 L70.1,187.0 L70.2,188.1 L69.9,189.1 L70.0,190.1 L70.1,191.1 L70.3,192.0 L70.2,193.0 L70.3,193.9 L70.0,194.8 L70.6,195.7 L70.2,196.7 L70.1,197.6 L70.6,198.5 L70.2,199.7 L70.4,200.8 L70.3,201.9 L70.8,203.0 L70.8,204.0 L70.8,205.1 L70.5,206.1 L70.8,207.1 L71.0,208.1 L71.1,209.1 L71.2,210.1 L71.4,211.1 L71.5,212.0 L71.1,213.0 L71.5,214.0 L71.2,215.2 L71.8,216.4 L71.9,217.7 L71.9,219.0 L72.2,220.3 L72.2,221.6 L72.0,222.8 L72.2,224.0 L72.3,225.0 L72.6,225.9 L72.5,226.7 L72.6,227.4 L73.0,227.7 L73.3,228.1 L73.2,227.4 L73.8,226.5 L73.8,225.1 L74.2,223.5 L74.4,221.8 L74.3,221.0 L74.3,220.0 L75.0,219.1 L74.7,218.0 L75.0,216.9 L75.1,215.7 L75.3,214.6 L75.7,213.4 L76.0,212.3 L75.7,211.2 L76.1,210.2 L76.0,209.2 L76.3,208.3 L76.5,206.7 L76.6,205.2 L76.8,203.7 L77.0,202.4 L77.6,201.5 L77.6,200.7 L77.8,200.3 L77.8,200.8 L77.9,201.5 L78.4,202.4 L78.8,203.7 L79.0,205.2 L79.2,206.7 L79.3,208.3 L79.6,209.1 L79.6,210.1 L79.7,211.2 L79.6,212.3 L79.5,213.4 L79.7,214.6 L80.1,215.7 L80.2,216.9 L80.2,218.0 L80.4,219.1 L80.6,220.1 L80.8,221.0 L80.8,221.8 L80.7,223.4 L81.4,224.9 L81.4,226.2 L81.5,227.2 L81.7,227.9 L82.0,227.6 L82.2,227.3 L82.3,226.7 L82.6,226.0 L82.8,225.0 L83.3,223.9 L83.5,222.6 L83.7,221.1 L83.5,219.5 L83.7,218.0 L84.2,217.2 L84.5,216.4 L84.4,215.4 L84.6,214.4 L84.4,213.4 L84.7,212.4 L85.2,211.3 L85.3,210.2 L85.5,209.1 L85.7,208.0 L85.4,206.8 L85.4,205.6 L85.6,204.5 L86.0,203.5 L86.2,202.4 L86.5,201.4 L86.5,200.4 L86.6,199.4 L86.8,198.5 L86.7,197.3 L86.9,196.1 L86.8,194.9 L87.4,193.8 L87.2,192.7 L87.7,191.7 L87.7,190.7 L87.6,189.7 L87.6,188.7 L87.8,187.7 L88.1,186.8 L88.3,185.9 L88.1,185.0 L88.2,183.8 L88.7,182.9 L88.9,182.0 L88.9,181.1 L89.0,180.2 L89.4,179.3 L89.2,178.3 L89.6,177.3 L89.8,176.1 L90.3,174.8 L90.2,174.0 L90.4,173.2 L90.2,172.3 L90.2,171.4 L90.2,170.4 L90.7,169.5 L90.6,168.5 L90.5,167.5 L90.4,166.5 L90.7,165.4 L90.9,164.4 L90.8,163.3 L90.8,162.2 L91.1,161.1 L91.3,160.0 L91.0,158.8 L90.9,157.6 L91.2,156.5 L91.3,155.6 L91.5,154.6 L91.3,153.6 L91.7,152.6 L91.8,151.5 L91.7,150.4 L91.6,149.3 L92.1,148.2 L91.8,147.1 L92.2,146.0 L91.9,144.9 L91.9,143.7 L92.3,142.6 L92.1,141.5 L92.6,140.5 L92.4,139.4 L92.3,138.3 L92.3,137.3 L92.5,136.3 L92.7,135.4 L93.0,134.5 L92.5,133.6 L92.7,132.8 L92.7,131.3 L93.3,130.0 L92.9,128.8 L92.9,127.6 L93.0,126.6 L93.2,125.6 L93.6,124.7 L93.7,123.8 L93.6,122.8 L93.9,121.9 L93.9,121.0 L93.6,120.0 L93.6,118.9 L94.1,118.0 L94.1,117.1 L93.7,116.1 L94.2,115.2 L94.1,114.3 L94.2,113.4 L94.2,112.4 L94.2,111.3 L94.2,110.1 L94.5,108.9 L94.6,108.1 L95.0,107.2 L94.6,106.2 L95.2,105.3 L94.8,104.3 L95.0,103.3 L95.3,102.3 L95.4,101.2 L95.3,100.1 L95.1,99.0 L95.5,98.0 L95.5,96.9 L95.9,95.9 L95.6,94.8 L95.8,93.7 L96.2,92.7 L95.7,91.7 L96.0,90.7 L96.4,89.6 L96.4,88.5 L96.1,87.4 L96.1,86.3 L96.2,85.2 L96.8,84.2 L96.5,83.1 L96.9,82.0 L97.0,81.0 L96.8,79.9 L96.8,78.9 L97.3,77.9 L97.2,76.9 L97.1,76.0 L97.4,75.1 L97.3,74.2 L97.4,73.0 L97.4,71.8 L98.0,70.8 L98.3,69.8 L98.3,68.8 L98.6,67.9 L98.3,66.8 L98.6,66.0 L98.9,65.1 L99.3,64.3 L99.5,63.3 L99.3,62.1 L99.4,60.7 L99.6,59.4 L99.8,58.0 L100.2,56.7 L99.9,55.6 L100.4,54.8 L100.5,54.3 L100.4,54.3 L100.5,54.4 L100.7,54.8 L101.1,55.5 L101.3,56.4 L101.4,57.4 L101.3,58.6 L101.9,59.8 L102.0,61.1 L101.9,62.5 L102.3,63.8 L102.6,65.1 L102.7,65.9 L102.4,66.9 L102.7,67.8 L102.3,68.8 L102.5,69.8 L102.5,70.8 L103.0,71.8 L103.2,72.8 L103.2,73.9 L103.0,75.0 L103.0,76.1 L103.2,77.1 L103.4,78.2 L103.3,79.3 L103.3,80.4 L103.3,81.5 L103.3,82.5 L103.3,83.5 L103.5,84.4 L103.8,85.4 L103.5,86.4 L103.8,87.4 L103.7,88.4 L103.9,89.4 L103.7,90.4 L104.1,91.4 L104.1,92.5 L104.2,93.5 L104.3,94.5 L103.9,95.6 L104.1,96.6 L104.3,97.7 L104.3,98.7 L104.0,99.8 L104.3,100.8 L104.5,101.7 L104.2,102.8 L104.3,103.8 L104.2,104.8 L104.7,105.8 L104.5,106.8 L104.4,107.8 L104.4,108.9 L104.4,109.9 L104.9,110.9 L104.8,112.0 L104.9,113.0 L104.9,114.0 L104.5,115.0 L104.7,116.1 L104.5,117.1 L104.9,118.0 L104.6,119.0 L104.9,120.0 L105.1,121.1 L104.8,122.1 L104.7,123.2 L105.3,124.2 L105.0,125.2 L105.0,126.2 L105.3,127.3 L105.3,128.3 L105.4,129.3 L105.4,130.3 L105.5,131.3 L105.3,132.3 L105.3,133.3 L105.6,134.3 L105.8,135.3 L105.6,136.3 L105.4,137.3 L105.8,138.3 L105.8,139.3 L105.9,140.3 L105.6,141.3 L105.8,142.3 L106.1,143.2 L106.1,144.2 L106.0,145.2 L106.0,146.2 L106.0,147.2 L106.3,148.2 L106.3,149.1 L106.1,150.2 L106.3,151.2 L106.4,152.2 L106.5,153.2 L106.1,154.3 L106.6,155.4 L106.5,156.5 L106.6,157.5 L106.6,158.5 L106.4,159.5 L106.4,160.5 L106.8,161.6 L106.9,162.6 L106.7,163.7 L107.0,164.8 L107.2,165.9 L106.7,167.0 L107.0,168.1 L106.8,169.2 L107.1,170.3 L106.8,171.4 L107.1,172.4 L107.4,173.5 L107.5,174.5 L107.2,175.5 L107.2,176.5 L107.1,177.5 L107.6,178.4 L107.4,179.6 L107.6,180.7 L107.6,181.8 L107.9,182.8 L107.8,183.9 L107.8,184.9 L107.6,185.9 L108.2,186.8 L108.0,187.8 L107.9,188.8 L107.9,189.8 L108.4,190.8 L108.5,191.8 L108.1,192.9 L108.2,193.9 L108.6,195.0 L109.0,195.9 L108.5,197.0 L109.0,197.9 L108.8,199.0 L109.1,200.0 L109.0,201.0 L109.6,202.0 L109.3,203.1 L109.8,204.2 L109.8,205.2 L109.7,206.3 L109.8,207.4 L110.3,208.4 L110.4,209.4 L110.4,210.4 L110.5,211.4 L110.7,212.4 L110.9,213.3 L111.0,214.3 L110.8,215.5 L110.8,216.6 L111.4,217.7 L111.3,218.9 L111.3,220.0 L111.8,221.1 L111.4,222.3 L112.0,223.3 L111.8,224.4 L111.9,225.4 L112.0,226.4 L112.3,227.3 L112.3,228.2 L112.3,229.1 L112.4,230.0 L112.4,231.3 L112.6,232.5 L112.7,233.6 L113.0,234.6 L112.7,235.6 L112.8,236.5 L113.0,237.4 L112.8,238.4 L112.9,239.4 L113.3,240.4 L113.7,241.4 L113.7,242.5 L114.2,243.5 L113.1,244.9 L113.6,247.0 L117.0,249.1 L117.7,251.0 L117.6,254.6 L118.3,257.8 L121.1,259.2 L120.2,263.2 L123.8,263.9 L124.7,266.1 L122.8,269.3 L125.9,270.0 L124.9,273.5 L126.6,275.2 L130.2,275.5 L129.0,279.0 L132.0,279.6 L131.7,282.7 L135.2,282.3 L136.1,285.1 L139.0,281.6 L142.1,283.2 L142.6,279.9 L145.7,279.9 L147.0,278.2 L146.2,275.2 L149.1,274.0 L147.3,271.4 L150.6,270.5 L151.5,267.3 L150.1,263.6 L152.5,262.0 L150.1,259.3 L152.0,257.5 L152.3,256.4 L152.2,255.2 L152.3,254.1 L152.8,253.1 L152.9,252.0 L153.2,251.0 L153.4,250.0 L153.5,249.0 L153.6,247.9 L153.7,246.9 L154.0,245.9 L154.5,244.9 L154.3,243.8 L154.4,242.8 L155.0,241.9 L155.2,241.0 L155.2,240.0 L155.1,239.1 L155.5,237.9 L156.0,236.6 L156.1,235.2 L156.7,234.0 L157.0,232.8 L156.7,231.7 L157.4,231.1 L157.7,230.7 L157.7,230.5 L157.8,230.7 L158.0,231.3 L158.2,232.1 L158.4,233.1 L158.7,234.3 L158.9,235.6 L159.0,237.0 L159.2,238.3 L159.3,239.6 L159.5,240.8 L159.2,241.8 L159.9,242.7 L159.8,243.8 L160.0,244.8 L160.5,245.8 L160.6,246.9 L160.8,247.9 L160.9,248.9 L161.2,250.0 L161.5,251.0 L161.6,252.0 L161.9,253.0 L160.7,254.3 L164.3,256.8 L161.9,259.4 L165.1,260.8 L163.2,263.3 L165.6,265.1 L167.4,268.2 L165.3,271.2 L168.7,272.8 L170.1,275.7 L171.9,278.2 L174.5,276.0 L177.6,278.8 L178.4,275.8 L182.6,274.9 L184.7,271.8 L186.1,267.6 L187.6,271.9 L191.8,272.9 L190.7,276.6 L193.5,279.1 L196.6,279.1 L196.0,282.3 L198.8,282.6 L199.7,286.5 L204.2,285.3 L204.1,289.4 L207.2,290.5 L209.8,292.8 L212.5,292.8 L214.1,296.6 L218.1,295.7 L219.6,298.5 L221.6,295.7 L224.4,298.2 L225.4,294.7 L228.2,296.5 L230.1,295.6 L230.6,292.6 L234.3,291.8 L234.6,287.5 L237.0,285.1 L239.4,284.1 L238.2,281.1 L241.8,280.0 L239.7,277.1 L243.8,276.4 L242.9,272.6 L243.6,271.7 L243.6,270.5 L243.8,269.4 L244.4,268.5 L244.5,267.4 L244.5,266.4 L245.1,265.4 L245.0,264.2 L245.6,263.2 L245.8,262.1 L246.1,261.1 L246.2,260.0 L246.2,259.0 L246.4,258.1 L246.5,257.3 L247.0,256.0 L246.7,254.9 L247.3,253.9 L246.9,252.9 L247.1,252.0 L247.2,251.0 L247.7,250.0 L247.6,249.1 L247.6,248.2 L248.1,247.4 L247.8,246.4 L248.0,245.5 L248.2,244.5 L248.5,243.3 L248.7,242.0 L248.7,241.2 L248.6,240.3 L248.7,239.4 L248.8,238.4 L249.3,237.5 L249.3,236.4 L249.5,235.4 L249.3,234.3 L249.6,233.2 L250.0,232.2 L250.0,231.1 L249.9,229.9 L250.3,228.9 L250.7,227.8 L250.5,226.8 L250.7,225.8 L250.9,224.7 L251.3,223.7 L251.6,222.6 L251.4,221.4 L251.6,220.3 L251.8,219.2 L252.1,218.1 L252.4,217.0 L252.4,216.0 L252.7,215.0 L252.8,214.1 L253.4,213.4 L253.5,212.7 L253.3,211.9 L254.5,210.7 L254.9,210.2 L255.6,209.3 L256.1,208.7 L256.1,207.8 L256.2,206.9 L256.1,205.9 L256.0,204.8 L256.3,203.7 L256.1,202.6 L256.2,201.4 L256.4,200.3 L256.2,199.1 L256.5,198.0 L256.9,197.0 L256.9,196.0 L257.0,194.9 L257.2,193.9 L257.2,192.8 L257.2,191.7 L257.6,190.6 L257.7,189.6 L258.1,188.6 L258.3,187.6 L258.2,186.7 L258.4,185.8 L258.6,185.0 L258.7,183.4 L258.8,181.7 L259.3,180.3 L259.6,179.1 L259.7,178.5 L259.7,178.6 L259.7,178.9 L260.0,179.4 L260.2,180.0 L260.5,180.8 L260.7,181.7 L260.7,182.8 L261.2,183.9 L261.2,185.2 L261.2,186.5 L261.4,187.9 L261.6,189.3 L261.9,190.8 L261.9,191.6 L262.0,192.5 L261.9,193.4 L262.1,194.4 L262.1,195.4 L262.0,196.4 L262.5,197.5 L262.3,198.6 L262.3,199.7 L262.5,200.8 L262.6,202.0 L262.3,203.1 L262.9,204.2 L262.7,205.4 L263.0,206.5 L262.7,207.6 L262.7,208.7 L263.0,209.7 L263.3,210.7 L263.1,211.7 L263.1,212.7 L263.1,213.6 L263.3,214.4 L263.3,215.7 L263.3,217.0 L263.6,218.0 L263.8,219.0 L263.6,219.9 L264.2,220.7 L264.0,221.6 L264.3,222.5 L264.2,223.4 L264.8,224.3 L264.4,225.4 L264.9,226.5 L265.2,227.8 L265.1,228.6 L265.1,229.5 L265.4,230.5 L265.2,231.5 L265.3,232.5 L265.2,233.6 L265.5,234.6 L265.6,235.7 L265.7,236.8 L265.5,238.0 L265.4,239.1 L265.8,240.2 L266.0,241.3 L265.7,242.5 L266.1,243.5 L266.2,244.6 L266.4,245.6 L266.0,246.6 L266.1,247.5 L266.3,248.4 L266.4,249.2 L266.5,250.0 L266.8,251.5 L266.5,252.8 L267.0,253.9 L267.0,254.9 L267.0,255.8 L267.2,256.6 L267.5,257.4 L267.8,258.2 L267.8,259.1 L268.2,260.0 L268.0,261.1 L268.5,262.0 L267.6,263.3 L270.7,264.9 L268.9,268.4 L271.5,270.9 L270.6,274.8 L273.3,276.0 L272.5,278.6 L275.8,279.3 L274.5,282.2 L276.9,283.4 L276.5,286.1 L278.9,287.2 L280.2,289.3 L280.2,292.2 L283.0,291.5 L286.1,294.5 L289.3,294.9 L292.5,295.2 L295.8,294.0 L297.6,295.8 L300.2,294.2 L301.9,296.7 L304.9,296.0 L305.3,299.0 L308.0,301.8 L310.8,301.0 L313.4,303.9 L316.6,302.5 L316.7,306.2 L321.6,305.9 L322.0,310.9 L325.7,310.0 L326.3,313.3 L330.1,312.6 L331.9,315.9 L336.3,314.5 L337.8,317.9 L341.7,316.6 L343.9,316.9 L346.9,316.9 L348.8,317.1 L351.1,319.4 L352.7,316.3 L355.3,318.2 L357.5,314.9 L361.5,314.8 L361.7,311.5 L365.1,312.8 L367.5,310.8 L367.8,306.6 L372.1,306.3 L371.3,302.8 L375.3,301.6 L376.6,299.5 L377.9,297.7 L378.8,295.2 L378.6,293.1 L380.5,291.8 L380.2,289.3 L382.6,287.9 L382.1,285.4 L383.3,282.4 L385.6,280.9 L386.7,277.7 L386.4,275.2 L388.2,273.4 L388.0,271.0 L390.7,268.8 L390.2,266.3 L392.4,265.3 L391.5,262.6 L394.0,261.9 L395.2,258.5 L394.1,255.7 L396.2,254.4 L396.0,252.4 L395.4,250.2 L397.2,247.2 L395.7,244.7 L396.0,242.4 L398.0,239.4 L397.0,236.2 L398.9,234.3 L398.7,232.1 L397.4,229.9 L397.6,227.8 L398.7,224.8 L398.7,223.8 L399.0,222.9 L399.2,221.9 L399.4,221.0 L399.4,220.0 L399.7,218.9 L399.7,217.8 L399.5,216.7 L399.7,215.6 L400.3,214.6 L400.4,213.5 L400.8,212.5 L400.5,211.4 L400.8,210.5 L401.0,209.5 L401.4,208.6 L401.2,207.6 L401.5,206.7 L401.8,205.9 L401.7,205.0 L401.8,203.8 L401.9,202.7 L402.5,201.8 L402.5,200.9 L402.6,200.0 L402.4,199.1 L402.4,198.2 L403.0,197.3 L403.2,196.2 L402.8,195.0 L403.4,194.2 L403.4,193.4 L403.3,192.6 L403.5,191.8 L403.4,190.9 L403.6,190.1 L403.6,189.2 L403.7,188.3 L403.7,187.3 L404.1,186.3 L404.2,185.2 L404.4,184.1 L404.1,182.8 L404.1,181.4 L404.4,180.0 L404.7,179.2 L404.9,178.5 L404.8,177.6 L404.5,176.7 L404.8,175.9 L405.0,175.0 L405.1,174.0 L405.0,173.1 L404.9,172.1 L405.2,171.1 L405.4,170.1 L405.3,169.1 L405.8,168.1 L405.6,167.0 L405.8,165.9 L405.7,164.9 L405.8,163.8 L405.8,162.7 L406.3,161.7 L406.1,160.5 L406.3,159.5 L406.3,158.4 L406.6,157.3 L406.8,156.3 L406.5,155.2 L407.0,154.1 L406.8,153.1 L407.1,152.0 L406.9,151.0 L407.0,150.0 L406.8,149.0 L407.0,148.0 L406.9,147.0 L407.1,146.0 L407.4,145.0 L407.1,144.0 L407.2,143.0 L407.7,142.0 L407.5,141.0 L407.6,140.0 L407.4,139.0 L407.9,138.0 L407.5,136.9 L407.4,135.9 L407.7,134.9 L407.8,133.9 L407.9,132.9 L407.6,131.9 L408.1,130.9 L407.8,129.9 L408.3,128.9 L407.9,127.9 L407.8,126.9 L407.8,125.9 L408.1,124.9 L408.3,124.0 L408.2,123.0 L408.5,122.0 L408.6,121.0 L408.6,120.0 L408.5,119.0 L408.8,118.0 L408.7,116.9 L408.4,115.9 L408.6,114.9 L408.6,113.8 L408.6,112.8 L409.2,111.8 L409.0,110.7 L408.8,109.7 L409.3,108.7 L409.1,107.6 L409.1,106.6 L409.4,105.6 L409.2,104.5 L409.7,103.6 L409.8,102.5 L409.3,101.5 L409.7,100.5 L409.5,99.5 L410.1,98.6 L409.7,97.6 L410.0,96.6 L410.2,95.6 L410.3,94.7 L410.2,93.7 L410.0,92.8 L410.2,91.9 L410.1,91.0 L410.3,89.9 L410.7,88.8 L410.7,87.7 L410.7,86.6 L411.0,85.6 L410.9,84.6 L411.0,83.6 L411.1,82.5 L411.2,81.6 L411.3,80.6 L411.4,79.6 L411.7,78.7 L411.9,77.7 L412.0,76.7 L411.8,75.8 L412.2,74.8 L412.2,73.9 L411.9,72.9 L412.4,71.9 L412.1,70.9 L412.5,70.0 L412.4,69.0 L412.7,68.0 L412.9,67.0 L413.1,66.0 L413.1,65.0 L412.9,63.9 L412.8,62.8 L412.9,61.8 L413.5,60.8 L413.2,59.7 L413.3,58.6 L413.3,57.6 L413.5,56.5 L413.6,55.5 L413.9,54.5 L413.7,53.4 L413.9,52.4 L414.3,51.4 L414.1,50.4 L414.0,49.4 L414.3,48.5 L414.2,47.6 L414.2,46.7 L414.6,45.8 L414.5,45.0 L414.9,43.8 L414.7,42.5 L414.7,41.4 L415.0,40.3 L415.0,39.2 L414.9,38.2 L415.2,37.2 L415.4,36.2 L415.5,35.3 L415.7,34.4 L415.5,33.4 L415.8,32.6 L415.4,31.7 L415.9,30.9 L416.1,30.0 L415.9,28.8 L415.9,27.6 L416.0,26.5 L416.1,25.5 L416.3,24.5 L416.4,23.5 L416.4,22.6 L416.9,21.8 L417.2,20.9 L416.8,20.0 L417.3,18.8 L417.4,17.6 L417.6,16.6 L417.9,15.5 L418.0,14.6 L418.5,13.8 L418.8,13.1 L419.1,11.0 L419.8,10.4 L420.5,11.0 L420.7,12.4 L421.1,14.0 L421.3,14.8 L421.0,15.7 L421.2,16.6 L421.5,17.6 L421.6,18.7 L421.4,20.0 L421.4,20.9 L421.4,21.8 L421.6,22.7 L421.7,23.7 L422.2,24.7 L422.3,25.8 L422.1,26.9 L422.2,27.9 L422.6,29.0 L422.6,30.0 L422.9,30.9 L422.5,31.7 L422.7,32.4 L422.5,33.1 L422.5,33.9 L422.8,34.7 L422.9,35.7 L423.1,36.8 L423.0,38.3 L422.9,40.0 L423.5,40.7 L423.4,41.5 L423.3,42.3 L423.7,43.1 L423.5,44.0 L423.8,44.9 L423.7,45.9 L423.6,46.9 L424.2,47.8 L423.9,48.9 L424.1,49.9 L424.1,51.0 L424.5,52.1 L424.2,53.2 L424.3,54.3 L425.0,55.4 L424.9,56.5 L425.1,57.6 L424.9,58.8 L424.9,59.9 L425.1,60.9 L425.1,62.0 L425.4,63.1 L425.3,64.1 L425.8,65.1 L426.0,66.1 L425.7,67.1 L425.9,68.0 L426.3,69.1 L425.9,70.2 L426.4,71.2 L426.4,72.2 L426.6,73.2 L426.3,74.2 L426.7,75.2 L426.6,76.1 L426.6,77.1 L426.4,78.0 L427.0,78.9 L426.5,79.9 L426.7,80.9 L427.0,81.8 L426.8,82.8 L426.9,83.7 L427.1,84.7 L427.3,85.7 L427.2,86.7 L427.3,87.7 L427.5,88.8 L427.5,89.9 L427.5,91.0 L427.5,91.9 L427.4,92.8 L427.4,93.8 L427.8,94.7 L427.8,95.6 L427.4,96.6 L427.6,97.6 L427.9,98.5 L427.9,99.5 L427.6,100.5 L427.8,101.5 L427.9,102.5 L427.6,103.5 L428.2,104.5 L427.8,105.6 L427.8,106.6 L427.9,107.6 L427.9,108.7 L428.3,109.7 L427.8,110.7 L428.3,111.8 L428.2,112.8 L428.2,113.8 L428.0,114.9 L428.1,115.9 L428.1,116.9 L428.3,118.0 L428.1,119.0 L428.5,120.0 L428.5,121.0 L428.5,122.0 L428.7,123.0 L428.8,123.9 L428.5,124.9 L428.8,125.9 L428.5,126.9 L428.7,127.9 L429.2,128.9 L429.2,129.9 L429.2,130.9 L429.2,131.9 L429.3,132.9 L429.1,133.9 L429.4,134.9 L429.3,135.9 L429.4,136.9 L429.1,138.0 L429.5,139.0 L429.8,139.9 L429.3,141.0 L429.4,142.0 L430.0,143.0 L429.6,144.0 L429.8,145.0 L429.7,146.0 L429.9,147.0 L430.0,148.0 L430.0,149.0 L430.5,150.0 L430.5,151.0 L430.6,152.0 L430.7,153.0 L430.6,154.1 L430.8,155.1 L430.8,156.1 L430.8,157.2 L431.0,158.2 L431.1,159.3 L430.6,160.4 L430.7,161.4 L430.8,162.5 L431.4,163.5 L431.2,164.6 L431.0,165.6 L431.4,166.7 L431.4,167.7 L431.3,168.7 L431.3,169.8 L431.6,170.7 L431.9,171.7 L431.7,172.7 L431.7,173.7 L432.1,174.6 L432.0,175.6 L432.0,176.5 L432.3,177.4 L432.3,178.3 L432.2,179.2 L432.4,180.0 L432.1,181.2 L432.6,182.4 L432.5,183.6 L432.4,184.7 L432.9,185.8 L432.8,186.9 L433.0,187.9 L432.8,189.0 L432.6,190.0 L433.0,190.9 L432.8,191.9 L433.3,192.8 L432.8,193.8 L433.3,194.7 L433.3,195.6 L433.4,196.5 L433.1,197.4 L433.5,198.2 L433.6,199.1 L433.7,200.0 L433.4,201.1 L433.4,202.1 L433.6,203.0 L433.4,203.8 L433.5,204.6 L433.3,205.4 L433.5,206.2 L433.3,207.0 L433.4,207.8 L433.1,208.7 L433.3,209.7 L433.2,210.8 L433.6,212.0 L433.5,213.4 L433.9,215.0 L433.9,215.7 L433.7,216.5 L434.0,217.4 L433.7,218.3 L434.2,219.2 L433.8,220.1 L433.9,221.1 L433.9,222.2 L434.4,223.2 L434.3,224.3 L434.4,225.4 L434.4,226.5 L434.7,227.6 L434.9,228.7 L434.8,229.9 L434.8,231.1 L435.2,232.2 L435.1,233.4 L434.9,234.6 L435.5,235.7 L435.1,236.9 L435.6,238.0 L435.5,239.1 L435.9,240.1 L435.5,241.3 L435.7,242.3 L436.0,243.3 L436.1,244.3 L436.2,245.2 L436.2,246.1 L436.2,247.0 L436.3,247.8 L436.7,248.6 L436.4,249.3 L436.3,250.0 L436.9,252.0 L437.2,253.5 L437.3,254.6 L437.4,255.5 L437.9,256.1 L438.1,256.7 L438.5,257.3 L438.3,258.0 L438.9,258.8 L438.7,260.1 L439.1,260.9 L439.5,261.7 L439.6,262.7 L439.3,263.7 L439.5,264.7 L439.6,265.7 L440.3,266.6 L440.4,267.7 L440.1,268.8 L440.6,269.9 L440.6,271.0 L440.9,272.1 L440.8,273.2 L441.1,274.3 L441.0,275.4 L441.2,276.5 L441.4,277.5 L441.5,278.5 L441.9,279.5 L441.6,280.6 L441.8,281.7 L442.2,282.8 L442.3,283.9 L442.3,285.1 L442.2,286.2 L442.3,287.3 L442.3,288.3 L442.2,289.4 L442.7,290.4 L442.8,291.3 L442.7,292.3 L442.8,293.1 L442.6,294.0 L442.6,294.7 L442.8,296.3 L442.7,297.5 L442.5,298.5 L442.8,299.3 L442.6,300.1 L442.7,300.9 L443.0,301.9 L442.3,303.1 L442.9,306.2 L444.6,309.0 L447.9,309.5 L447.5,312.5 L450.4,312.5 L450.4,316.1 L454.8,315.8 L455.2,318.7 L459.2,318.6 L460.5,319.8 L462.5,322.9 L465.9,321.4 L468.6,324.3 L471.1,323.3 L472.9,325.6 L475.5,324.3 L478.1,327.1 L480.3,327.4 L482.9,326.2 L484.4,328.9 L487.0,327.2 L489.5,329.9 L492.7,329.0 L494.5,331.6 L497.2,329.6 L498.7,332.3 L501.3,329.6 L503.2,332.7 L505.5,332.5 L509.1,330.9 L510.7,333.5 L513.2,331.4 L516.1,333.8 L516.0,333.0" stroke-width="2.8"/>
<path d="M44.8,251.7 L42.6,254.1 L42.8,256.6 L46.5,256.3 L44.1,252.7 L46.8,250.8 L48.3,251.9 L51.0,252.3 L49.6,248.3 L53.5,247.6 L52.4,243.6 L55.0,241.3 L54.1,237.6 L56.7,236.1 L54.5,233.3 L58.3,231.0 L56.7,227.2 M113.6,244.8 L113.7,247.0 L115.3,249.8 L116.1,253.1 L120.1,254.8 L118.8,258.8 L119.4,261.1 L123.3,263.1 L124.3,265.1 L123.3,269.1 L124.9,272.0 L128.3,274.1 L127.7,277.2 L129.1,279.0 L130.3,280.8 L132.1,282.4 L135.5,282.6 L137.6,285.2 L139.0,281.6 L142.1,280.9 L145.3,281.0 L146.8,278.1 L146.0,273.7 L148.9,273.0 L147.9,270.6 L148.9,268.8 L150.9,266.0 L149.8,263.5 L152.5,260.9 M163.5,253.8 L161.7,257.3 L164.4,259.9 L162.0,262.6 L165.5,263.9 L164.0,266.8 L164.6,270.3 L167.9,271.4 L167.1,275.5 L169.9,276.0 L173.1,274.9 L175.7,279.5 L177.8,275.7 L181.7,275.6 L182.4,273.6 L184.8,270.6 L186.1,267.7 L187.0,271.3 L188.6,273.9 L192.4,273.7 L193.4,275.9 L193.7,278.9 L196.9,278.9 L195.7,282.6 L199.1,282.3 L200.1,285.9 L203.0,285.2 L203.4,288.7 L206.5,287.8 L207.5,291.9 L211.5,290.7 L212.9,292.2 L213.1,295.9 L216.6,294.2 L217.6,297.1 L219.6,298.8 L222.6,295.6 L224.5,295.2 L226.4,294.7 L230.0,295.3 L231.3,291.8 L234.4,292.0 L234.4,288.8 L235.8,285.6 L239.6,284.2 L238.5,281.3 L241.6,279.9 L242.7,277.1 L241.7,273.4 M267.5,263.3 L270.5,264.9 L268.3,268.5 L269.2,271.7 L272.6,272.8 L272.8,275.0 L272.5,278.6 L276.1,280.3 L276.9,283.4 L276.9,287.1 L277.5,289.5 L281.3,289.8 L282.6,293.3 L285.3,291.6 L288.4,294.5 L292.0,292.8 L294.5,296.2 L296.9,293.2 L298.9,296.1 L302.8,294.2 L303.8,297.3 L306.7,298.0 L307.0,301.0 L308.8,302.9 L311.6,301.8 L313.4,303.9 L317.2,303.5 L317.7,307.4 L321.2,306.4 L321.4,309.7 L324.7,309.9 L325.5,312.4 L328.6,310.7 L330.1,314.7 L334.1,313.6 L335.2,317.7 L339.6,315.8 L342.4,319.2 L344.9,317.0 L346.7,320.2 L349.8,317.3 L351.8,316.5 L354.4,319.1 L355.9,316.5 L357.6,315.0 L360.9,315.7 L361.9,311.9 L364.8,312.4 L367.1,310.3 L369.0,309.4 L369.4,305.3 L373.6,304.8 L375.9,302.1 L375.2,298.7 L377.9,297.7 L379.4,294.6 L379.7,291.4 L381.5,289.9 L381.3,287.3 L383.8,284.9 L383.7,281.3 L386.4,278.8 L386.4,275.2 L388.9,272.5 L388.3,269.0 L391.4,267.0 L390.7,264.5 L393.8,262.7 L392.6,260.2 L395.0,258.4 L394.6,255.0 L396.1,253.4 L395.1,251.2 L395.2,249.1 L397.3,247.2 L396.3,243.6 L398.0,241.6 L397.1,238.3 L396.9,236.2 L398.7,234.2 L397.6,231.0 L397.7,227.8 M442.1,303.2 L443.1,304.9 L445.4,306.2 L446.8,307.8 L446.8,311.7 L450.3,312.6 L451.4,316.7 L455.3,316.9 L456.0,319.1 L459.7,319.4 L461.3,322.4 L464.8,321.9 L467.3,324.9 L471.3,322.5 L472.8,325.9 L475.6,324.0 L478.0,327.2 L480.7,326.0 L482.3,328.3 L484.9,327.2 L486.4,329.9 L489.0,327.7 L490.3,330.9 L492.5,330.5 L494.9,329.2 L497.0,331.2 L498.9,331.5 L501.0,331.9 L504.6,330.7 L506.6,333.3 L510.1,331.1 L512.3,333.7 L515.4,334.6" stroke-width="2.0" stroke-linejoin="miter" stroke-miterlimit="3"/>

</g>
<path d="M37.5,380 V373 M37.5,4 V11 M70.5,380 V376 M70.5,4 V8 M103.6,380 V373 M103.6,4 V11 M136.6,380 V376 M136.6,4 V8 M169.6,380 V373 M169.6,4 V11 M202.7,380 V376 M202.7,4 V8 M235.7,380 V373 M235.7,4 V11 M268.7,380 V376 M268.7,4 V8 M301.8,380 V373 M301.8,4 V11 M334.8,380 V376 M334.8,4 V8 M367.8,380 V373 M367.8,4 V11 M400.9,380 V376 M400.9,4 V8 M433.9,380 V373 M433.9,4 V11 M467.0,380 V376 M467.0,4 V8 M500.0,380 V373 M500.0,4 V11 M31,10.9 H38 M516.3,10.9 H509.29999999999995 M31,46.0 H35 M516.3,46.0 H512.3 M31,81.2 H38 M516.3,81.2 H509.29999999999995 M31,116.3 H35 M516.3,116.3 H512.3 M31,151.5 H38 M516.3,151.5 H509.29999999999995 M31,186.7 H35 M516.3,186.7 H512.3 M31,221.8 H38 M516.3,221.8 H509.29999999999995 M31,256.9 H35 M516.3,256.9 H512.3 M31,292.1 H38 M516.3,292.1 H509.29999999999995 M31,327.2 H35 M516.3,327.2 H512.3 M31,362.4 H38 M516.3,362.4 H509.29999999999995" stroke="#000" stroke-width="2.2" fill="none"/>
<rect x="31" y="4" width="485.3" height="376" fill="none" stroke="#000" stroke-width="2.2"/>
<g font-size="22"><text x="37.5" y="404.6" text-anchor="middle">100</text><text x="103.6" y="404.6" text-anchor="middle">200</text><text x="169.6" y="404.6" text-anchor="middle">300</text><text x="235.7" y="404.6" text-anchor="middle">400</text><text x="301.8" y="404.6" text-anchor="middle">500</text><text x="367.8" y="404.6" text-anchor="middle">600</text><text x="433.9" y="404.6" text-anchor="middle">700</text><text x="500.0" y="404.6" text-anchor="middle">800</text></g>
<text x="168.1" y="430.3" font-size="22.8">Raman Shift</text>
<text x="297.3" y="430.35" font-size="22.3">(cm</text>
<text x="334.2" y="420.6" font-size="12">-</text>
<text x="339.9" y="419.5" font-size="13.8">1</text>
<text x="344.9" y="430.4" font-size="21.6">)</text>
<text transform="translate(18.4,292.7) rotate(-90)" font-size="22.6">Intensity (arb. units)</text>
<rect x="178.6" y="13.9" width="188.6" height="34" fill="#fff" stroke="#888" stroke-width="1.4"/>
<g font-size="22">
<text x="183.8" y="35.4">PrFe</text>
<text x="230.3" y="42.8">0.70</text>
<text x="269.9" y="35.5">Cr</text>
<text x="297.6" y="42.8">0.30</text>
<text x="336.7" y="35.6">O</text>
<text x="353.9" y="41.2">3</text>
</g>
<g font-size="17.7">
<text x="260.1" y="105">Mode related</text>
<text x="259.6" y="127">to charge transfer</text>
</g>
<path d="M350.6,87.1 C355.5,77.5 363.5,72.3 372.5,72.1 C381.5,72 390,76.5 398,81.8" fill="none" stroke="#000" stroke-width="2.1"/>
<path d="M405.5,86.9 L395.4,84.6 L398.4,78.3 Z" fill="#000"/>
<g font-size="19.2">
<text x="171" y="265.5">785 nm</text>
<text x="156.5" y="335.6">633 nm</text>
<text x="152.1" y="371.4">532 nm</text>
</g>
</svg>
</body></html>
